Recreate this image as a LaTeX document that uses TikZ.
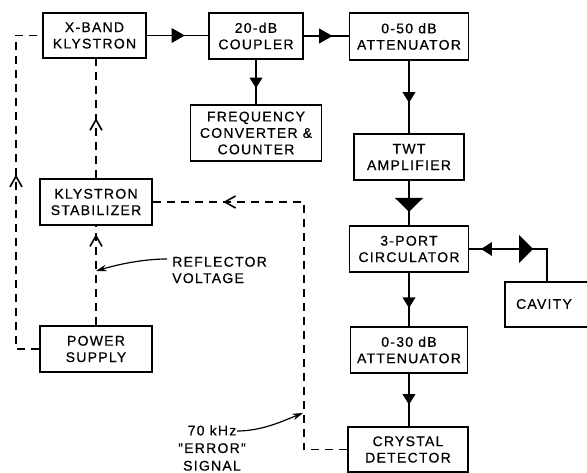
\documentclass[tikz,border=0pt]{standalone}
\usepackage{fontspec}
\setmainfont{Liberation Sans}[LetterSpace=9,FakeBold=0.6]
\usetikzlibrary{arrows.meta,decorations.markings}
\begin{document}
\begin{tikzpicture}[x=0.75pt,y=-0.75pt,
  sz/.style 2 args={minimum width=#1*0.75pt, minimum height=#2*0.75pt},
  box/.style={draw, line width=1.3pt, inner sep=0pt, align=center, font=\fontsize{10.5}{12.3}\selectfont},
  lbl/.style={inner sep=0pt, font=\fontsize{10.5}{12.3}\selectfont},
  sig/.style={line width=1.3pt},
  ctl/.style={line width=1.1pt, dash pattern=on 6pt off 4.5pt},
  leader/.style={line width=0.9pt, -{Stealth[length=8pt,width=5pt]}},
  tri at/.style={postaction={decorate}, decoration={markings, mark=at position #1 with {\arrow{Triangle[length=10pt,width=11pt]}}}},
  trism at/.style={postaction={decorate}, decoration={markings, mark=at position #1 with {\arrow{Triangle[length=8pt,width=9.5pt]}}}},
  tribig at/.style={postaction={decorate}, decoration={markings, mark=at position #1 with {\arrow{Triangle[length=10.5pt,width=21pt]}}}},
  open at/.style={postaction={decorate}, decoration={markings, mark=at position #1 with {\draw[solid, line width=1.2pt, line join=miter] (-8pt,-4.5pt) -- (0pt,0pt) -- (-8pt,4.5pt);}}}
]
\useasboundingbox (0,0) rectangle (587,473);
\clip (0,0) rectangle (587,473);

% boxes
\node[box, sz={103}{45}] (kly) at (94.5,35.5) {X-BAND\\KLYSTRON};
\node[box, sz={94}{46}] (cpl) at (256,36) {20-dB\\COUPLER};
\node[box, sz={119}{47}] (att1) at (409,36.5) {0-50 dB\\ATTENUATOR};
\node[box, sz={131}{56}] (frq) at (256,133) {FREQUENCY\\CONVERTER \&\\COUNTER};
\node[box, sz={110}{46}] (twt) at (409,157) {TWT\\AMPLIFIER};
\node[box, sz={119}{46}] (circ) at (409,249) {3-PORT\\CIRCULATOR};
\node[box, sz={117}{46}] (att2) at (409,350) {0-30 dB\\ATTENUATOR};
\node[box, sz={120}{45}] (crys) at (408,449.5) {CRYSTAL\\DETECTOR};
\node[box, sz={112}{46}] (stab) at (96,202) {KLYSTRON\\STABILIZER};
\node[box, sz={112}{46}] (ps) at (96,349) {POWER\\SUPPLY};
\node[box, sz={100}{45}] (cav) at (555,304.5) {};
\node[lbl] (cavt) at (544,304) {CAVITY};

% labels
\node[lbl, anchor=west, align=left] (refl) at (172,270) {REFLECTOR\\VOLTAGE};
\node[lbl, align=center, font=\fontsize{10.5}{13.2}\selectfont] (err) at (212,448) {70 kHz\\"ERROR"\\SIGNAL};

% helper coordinates
\coordinate (lft) at (16,0);
\coordinate (fb) at (304,0);
\coordinate (cc) at (547,0);
\coordinate (rv) at (96,271);
\coordinate (et) at (303,413);

% signal path
\draw[sig, tri at=0.62] (kly.east) -- (kly.east -| cpl.west);
\draw[sig, tri at=0.64] (cpl.east) -- (cpl.east -| att1.west);
\draw[sig, trism at=0.64] (cpl.south) -- (cpl.south |- frq.north);
\draw[sig, trism at=0.58] (att1.south) -- (att1.south |- twt.north);
\draw[sig, tribig at=0.70] (twt.south) -- (twt.south |- circ.north);
\draw[sig, trism at=0.66] (circ.south) -- (circ.south |- att2.north);
\draw[sig, trism at=0.59] (att2.south) -- (att2.south |- crys.north);
\draw[sig, postaction={decorate}, decoration={markings,
    mark=at position 0.42 with {\arrowreversed{Triangle[length=10.5pt,width=21pt]}},
    mark=at position 0.893 with {\arrow{Triangle[length=8pt,width=10pt]}}}]
  (cc |- cav.north) -- (cc |- circ.east) -- (circ.east);

% control (dashed) paths
\draw[ctl, open at=0.54] (ps.west) -- (ps.west -| lft) -- (kly.west -| lft) -- (kly.west);
\draw[ctl, open at=0.90] (ps.north) -- (ps.north |- stab.south);
\draw[ctl, open at=0.49] (stab.north) -- (stab.north |- kly.south);
\draw[ctl, open at=0.837] (crys.west) -- (crys.west -| fb) -- (stab.east -| fb) -- (stab.east);

% leaders
\draw[leader] ([shift={(-5,-11)}]refl.west) .. controls +(-25,0) and +(20,-6) .. (rv);
\draw[leader] ([shift={(25,-17)}]err.center) .. controls +(25,0) and +(-20,8) .. (et);
\end{tikzpicture}
\end{document}
